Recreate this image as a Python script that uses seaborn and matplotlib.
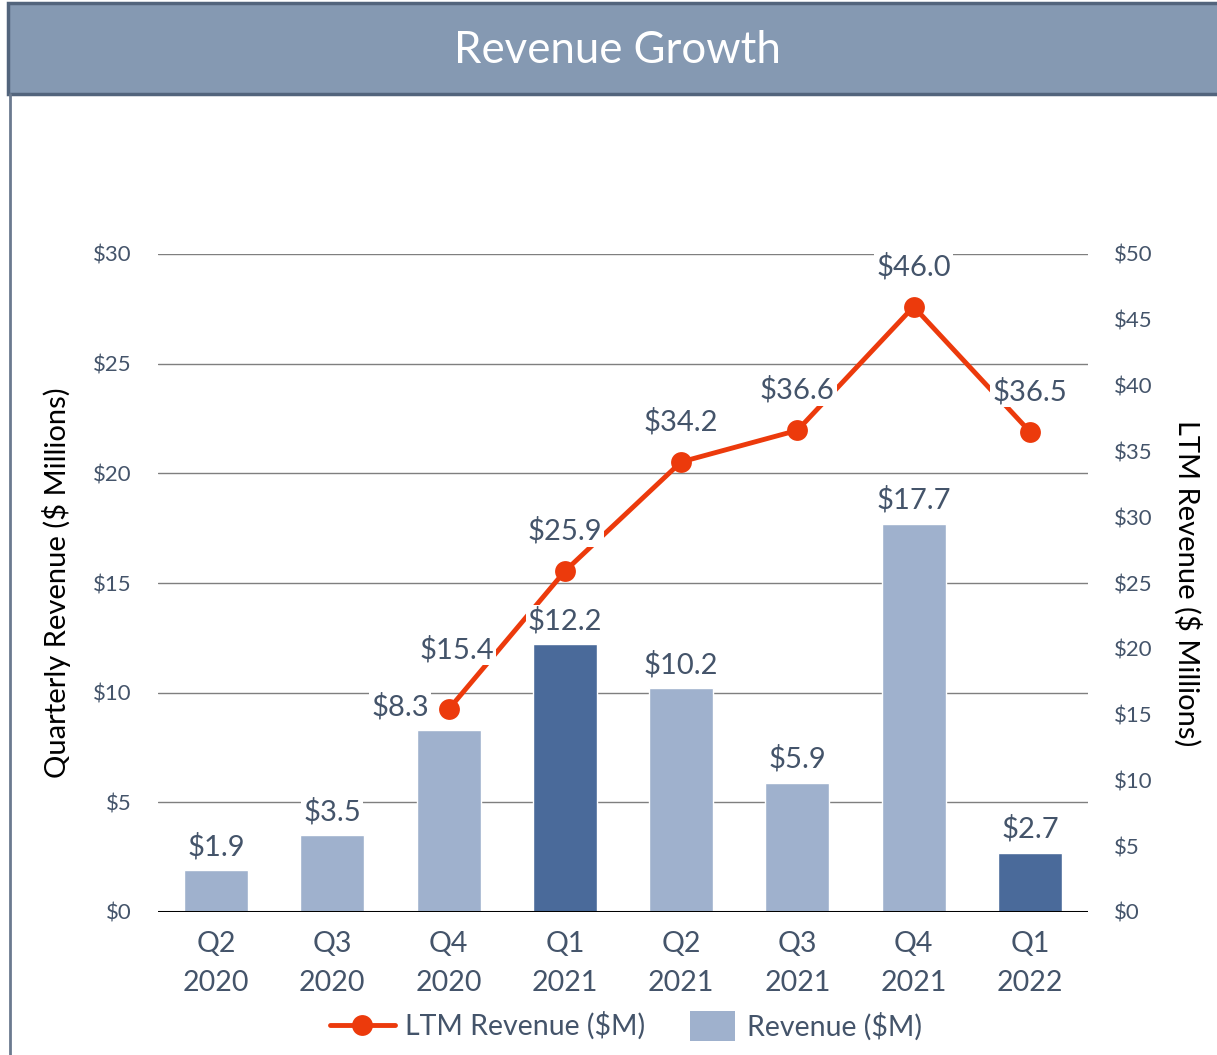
import matplotlib
matplotlib.use("Agg")
import matplotlib.pyplot as plt
from matplotlib.lines import Line2D
from matplotlib.patches import Patch, Rectangle
import seaborn as sns
import pandas as pd

# ------------------------------
# Chart data
# ------------------------------
quarters = ["Q2\n2020", "Q3\n2020", "Q4\n2020", "Q1\n2021",
            "Q2\n2021", "Q3\n2021", "Q4\n2021", "Q1\n2022"]
revenue = [1.9, 3.5, 8.3, 12.2, 10.2, 5.9, 17.7, 2.7]
ltm_quarters = quarters[2:]
ltm_revenue = [15.4, 25.9, 34.2, 36.6, 46.0, 36.5]

left_ticks = [0, 5, 10, 15, 20, 25, 30]
right_ticks = [0, 5, 10, 15, 20, 25, 30, 35, 40, 45, 50]

# colours
LIGHT = "#9fb1cd"
DARK = "#4a6a9a"
LINE = "#ec3a0c"
TEXT = "#44546a"
bar_colors = [DARK if q.startswith("Q1") else LIGHT for q in quarters]

sns.set_theme(style="white")
plt.rcParams["font.family"] = ["Lato", "DejaVu Sans"]

fig = plt.figure(figsize=(12.17, 10.55), dpi=100)

# title banner and frame
fig.patches.append(Rectangle((8 / 1217, 1 - 94 / 1055), 1.0, 91 / 1055,
                             transform=fig.transFigure, facecolor="#8599b2",
                             edgecolor="#52647c", linewidth=2.5, zorder=0))
fig.lines.append(Line2D([10 / 1217, 10 / 1217], [0, 1 - 94 / 1055],
                        transform=fig.transFigure, color="#6b7a8f", linewidth=2))
fig.text(0.507, 1 - 51 / 1055, "Revenue Growth", ha="center", va="center",
         color="white", fontsize=31.5)

ax = fig.add_axes([158 / 1217, 1 - 912 / 1055, 930 / 1217, 658 / 1055])

# ------------------------------
# Bars (quarterly revenue)
# ------------------------------
bar_df = pd.DataFrame({"quarter": quarters, "revenue": revenue})
sns.barplot(data=bar_df, x="quarter", y="revenue", hue="quarter",
            palette=bar_colors, width=0.55, saturation=1, legend=False,
            ax=ax, zorder=2)
ax.set_xlim(-0.5, len(quarters) - 0.5)
ax.set_ylim(0, 30)
ax.set_yticks(left_ticks)
ax.set_yticklabels([f"${t}" for t in left_ticks])
for t in left_ticks[1:]:
    ax.axhline(t, color="#7f7f7f", linewidth=1, zorder=1)
ax.axhline(0, color="black", linewidth=2.2, zorder=3)
for s in ax.spines.values():
    s.set_visible(False)
ax.tick_params(axis="both", length=0, colors=TEXT)
ax.tick_params(axis="x", labelsize=20.5, pad=14)
ax.tick_params(axis="y", labelsize=16, pad=19)
for lbl in ax.get_xticklabels():
    lbl.set_linespacing(1.58)
ax.set_xlabel("")
ax.set_ylabel("Quarterly Revenue ($ Millions)", fontsize=21, color="black",
              labelpad=16)

# ------------------------------
# Line (LTM revenue) on right axis
# ------------------------------
ax2 = ax.twinx()
line_df = pd.DataFrame({"pos": [quarters.index(q) for q in ltm_quarters],
                        "ltm": ltm_revenue})
sns.lineplot(data=line_df, x="pos", y="ltm", color=LINE, linewidth=3.5,
             marker="o", markersize=15, markeredgewidth=0, ax=ax2, zorder=4)
ax2.set_ylim(0, 50)
ax2.set_yticks(right_ticks)
ax2.set_yticklabels([f"${t}" for t in right_ticks])
for s in ax2.spines.values():
    s.set_visible(False)
ax2.tick_params(axis="y", length=0, colors=TEXT, labelsize=16, pad=19)
ax2.set_xlabel("")
ax2.set_ylabel("LTM Revenue ($ Millions)", fontsize=21, color="black",
               rotation=270, labelpad=35)
ax2.grid(False)
ax.set_zorder(1)
ax2.set_zorder(2)
ax.patch.set_visible(False)

# ------------------------------
# Data labels
# ------------------------------
box = dict(facecolor="white", edgecolor="none", pad=1.5)
bar_offsets = {2: (-35, 17)}
for i, v in enumerate(revenue):
    dx, dy = bar_offsets.get(i, (0, 17))
    ax2.annotate(f"${v:.1f}", (i, v * 50 / 30), xytext=(dx, dy),
                 textcoords="offset points", ha="center", va="center",
                 fontsize=21, color=TEXT, bbox=box, zorder=6)
line_offsets = {0: (6, 43)}
for q, v in zip(ltm_quarters, ltm_revenue):
    i = quarters.index(q)
    dx, dy = line_offsets.get(i - 2, (0, 29))
    ax2.annotate(f"${v:.1f}", (i, v), xytext=(dx, dy),
                 textcoords="offset points", ha="center", va="center",
                 fontsize=21, color=TEXT, bbox=box, zorder=6)

# ------------------------------
# Legend (two pieces so each handle gets its own width)
# ------------------------------
leg_y = 1 - 1026 / 1055
line_handle = Line2D([0], [0], color=LINE, linewidth=3.5, marker="o",
                     markersize=15, markeredgewidth=0)
leg1 = fig.legend([line_handle], ["LTM Revenue ($M)"], loc="center left",
                  bbox_to_anchor=(330 / 1217, leg_y), frameon=False,
                  fontsize=20.5, handlelength=2.28, handletextpad=0.35,
                  borderpad=0, borderaxespad=0)
leg2 = fig.legend([Patch(facecolor=LIGHT, edgecolor="none")], ["Revenue ($M)"],
                  loc="center left", bbox_to_anchor=(690 / 1217, leg_y),
                  frameon=False, fontsize=20.5, handlelength=1.58,
                  handleheight=1.2, handletextpad=0.42,
                  borderpad=0, borderaxespad=0)
for leg in (leg1, leg2):
    for t in leg.get_texts():
        t.set_color(TEXT)

fig.savefig("out.png", dpi=100)
